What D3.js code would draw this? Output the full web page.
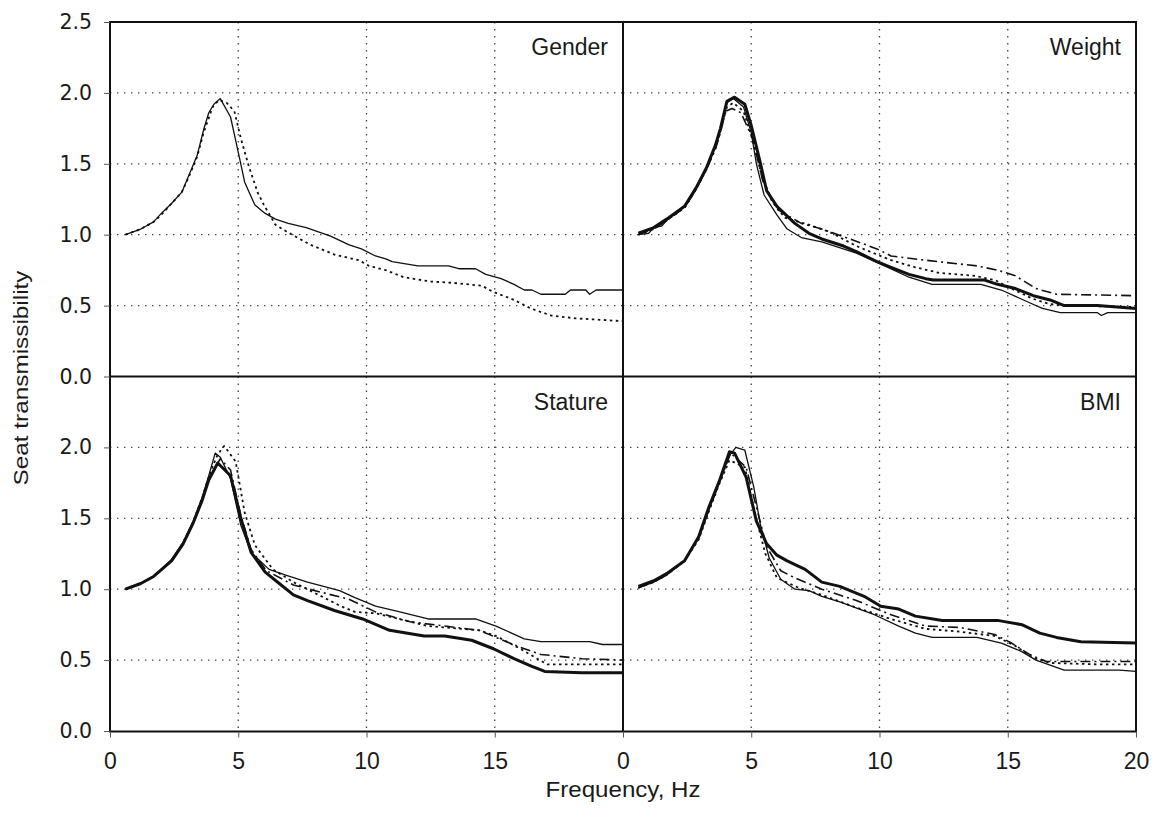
<!DOCTYPE html>
<html>
<head>
<meta charset="utf-8">
<script src="https://cdn.jsdelivr.net/npm/d3@7"></script>
<style>
  body { margin: 0; background: #fff; }
  text { font-family: "Liberation Sans", Arial, sans-serif; fill: #1a1a1a; }
</style>
</head>
<body>
<div id="chart"></div>
<script>
// tick values
var freqTicks = [0, 5, 10, 15, 20];
var yTicksTop = [0, 0.5, 1.0, 1.5, 2.0, 2.5];
var yTicksBottom = [0, 0.5, 1.0, 1.5, 2.0];
var gridFreq = [5, 10, 15];
var gridY = [0.5, 1.0, 1.5, 2.0];

// Gender
var genderSolid = [[0.6,1.0],[1.2,1.04],[1.7,1.09],[2.0,1.15],[2.4,1.22],[2.8,1.3],[3.1,1.43],[3.4,1.56],[3.65,1.74],[3.85,1.86],[4.05,1.92],[4.3,1.96],[4.7,1.83],[5.05,1.54],[5.25,1.37],[5.65,1.21],[6.05,1.15],[6.45,1.11],[6.95,1.08],[7.65,1.05],[8.6,0.99],[9.3,0.93],[9.8,0.9],[10.35,0.85],[10.75,0.83],[11.0,0.81],[12.0,0.78],[13.2,0.78],[13.6,0.76],[14.25,0.76],[14.65,0.72],[15.25,0.69],[15.75,0.65],[16.15,0.61],[16.45,0.61],[16.8,0.58],[17.75,0.58],[17.95,0.61],[18.55,0.61],[18.7,0.58],[18.95,0.61],[20,0.61]];
var genderDotted = [[0.6,1.0],[1.2,1.04],[1.7,1.09],[2.0,1.14],[2.4,1.22],[2.8,1.3],[3.1,1.42],[3.4,1.55],[3.65,1.72],[4.0,1.9],[4.25,1.95],[4.55,1.93],[4.85,1.87],[5.1,1.68],[5.4,1.49],[5.75,1.3],[6.0,1.21],[6.45,1.07],[6.9,1.02],[7.8,0.93],[8.75,0.86],[9.7,0.82],[10.1,0.78],[10.75,0.75],[11.45,0.7],[12.5,0.67],[13.4,0.66],[14.5,0.64],[14.9,0.6],[15.75,0.54],[16.4,0.48],[17.2,0.43],[18.15,0.41],[19.1,0.4],[20,0.39]];

// Weight
var weightThick = [[0.6,1.01],[1.2,1.05],[1.7,1.11],[2.4,1.2],[2.85,1.33],[3.25,1.47],[3.6,1.63],[3.8,1.75],[4.05,1.94],[4.35,1.97],[4.75,1.92],[5.0,1.77],[5.35,1.51],[5.6,1.31],[6.0,1.2],[6.7,1.08],[7.25,1.01],[7.75,0.97],[8.6,0.92],[9.1,0.88],[9.9,0.81],[10.45,0.77],[11.15,0.72],[11.8,0.69],[12.1,0.68],[14.1,0.68],[14.6,0.65],[15.3,0.62],[16.0,0.57],[16.65,0.54],[17.2,0.5],[18.5,0.5],[20,0.48]];
var weightThin = [[0.6,1.0],[1.0,1.01],[1.2,1.05],[1.5,1.06],[1.7,1.1],[2.4,1.2],[2.85,1.33],[3.25,1.47],[3.6,1.62],[3.8,1.74],[4.05,1.93],[4.3,1.96],[4.7,1.9],[5.0,1.72],[5.2,1.5],[5.5,1.28],[6.0,1.14],[6.4,1.04],[6.95,0.98],[7.75,0.95],[9.1,0.87],[10.2,0.78],[11.15,0.7],[12.05,0.65],[13.95,0.65],[14.75,0.61],[15.85,0.52],[16.35,0.48],[17.05,0.45],[18.5,0.45],[18.65,0.43],[18.9,0.45],[20,0.45]];
var weightDashDot = [[0.6,1.0],[1.2,1.04],[1.7,1.1],[2.4,1.19],[2.85,1.32],[3.25,1.46],[3.6,1.6],[3.8,1.72],[4.0,1.87],[4.25,1.89],[4.6,1.86],[5.05,1.68],[5.45,1.38],[6.0,1.18],[6.95,1.08],[7.75,1.04],[8.85,0.97],[9.9,0.9],[10.45,0.85],[11.8,0.82],[13.8,0.78],[14.6,0.75],[15.3,0.71],[16.1,0.62],[16.9,0.58],[20,0.57]];
var weightDotted = [[0.6,1.0],[1.2,1.04],[1.7,1.1],[2.4,1.19],[2.85,1.32],[3.25,1.46],[3.6,1.61],[3.8,1.73],[4.05,1.9],[4.3,1.93],[4.7,1.87],[5.0,1.7],[5.4,1.42],[5.8,1.24],[6.3,1.12],[7.25,1.07],[8.05,1.02],[9.1,0.92],[10.45,0.82],[11.4,0.77],[12.35,0.73],[13.7,0.71],[14.5,0.68],[15.15,0.62],[15.95,0.55],[16.65,0.51],[17.2,0.5],[20,0.49]];

// Stature
var statureThin = [[0.6,1.0],[1.2,1.04],[1.7,1.09],[2.4,1.21],[2.85,1.33],[3.25,1.48],[3.6,1.65],[3.85,1.8],[4.1,1.96],[4.3,1.93],[4.7,1.78],[5.1,1.45],[5.5,1.26],[6.2,1.14],[6.85,1.1],[7.7,1.05],[8.95,0.99],[9.55,0.94],[10.35,0.88],[11.3,0.84],[12.4,0.79],[14.25,0.79],[15.05,0.74],[16.15,0.65],[16.8,0.63],[18.7,0.63],[19.2,0.61],[20,0.61]];
var statureThick = [[0.6,1.0],[1.2,1.04],[1.7,1.09],[2.4,1.2],[2.85,1.32],[3.25,1.47],[3.6,1.63],[3.85,1.77],[4.2,1.89],[4.7,1.8],[5.1,1.5],[5.5,1.26],[6.05,1.12],[6.6,1.04],[7.15,0.96],[7.7,0.92],[8.75,0.85],[9.85,0.79],[10.9,0.71],[12.25,0.67],[13.05,0.67],[14.1,0.64],[14.95,0.58],[15.75,0.51],[16.4,0.46],[16.95,0.42],[18.4,0.41],[20,0.41]];
var statureDashDot = [[0.6,1.0],[1.2,1.04],[1.7,1.09],[2.4,1.2],[2.85,1.32],[3.25,1.47],[3.6,1.64],[3.85,1.78],[4.3,1.92],[4.7,1.84],[5.1,1.52],[5.5,1.28],[6.1,1.13],[7.15,1.03],[8.2,0.98],[9.3,0.93],[10.35,0.84],[11.7,0.77],[13.05,0.74],[14.4,0.71],[15.05,0.66],[16.0,0.59],[16.8,0.54],[18.4,0.51],[20,0.5]];
var statureDotted = [[0.6,1.0],[1.2,1.04],[1.7,1.09],[2.4,1.2],[2.85,1.33],[3.25,1.48],[3.6,1.65],[3.9,1.82],[4.2,1.95],[4.45,2.01],[4.9,1.9],[5.25,1.54],[5.65,1.31],[6.35,1.14],[7.15,1.05],[9.0,0.88],[9.55,0.84],[10.35,0.83],[12.4,0.74],[14.4,0.71],[15.05,0.67],[16.0,0.58],[16.65,0.51],[17.05,0.47],[20,0.47]];

// BMI
var bmiThick = [[0.6,1.02],[1.2,1.06],[1.7,1.11],[2.4,1.2],[2.95,1.37],[3.35,1.58],[3.75,1.76],[4.15,1.97],[4.35,1.96],[4.8,1.79],[5.2,1.48],[5.6,1.32],[6.0,1.24],[6.4,1.2],[7.1,1.14],[7.75,1.05],[8.45,1.02],[9.4,0.95],[10.05,0.88],[10.75,0.86],[11.4,0.81],[12.45,0.78],[14.6,0.78],[15.55,0.75],[16.25,0.69],[16.9,0.66],[17.85,0.63],[20,0.62]];
var bmiThin = [[0.6,1.01],[1.2,1.05],[1.7,1.1],[2.4,1.2],[2.95,1.36],[3.35,1.56],[3.75,1.75],[4.1,1.93],[4.4,2.0],[4.75,1.98],[5.1,1.72],[5.35,1.46],[5.7,1.22],[6.15,1.07],[6.7,1.0],[7.25,0.99],[7.75,0.95],[8.45,0.91],[9.8,0.82],[10.75,0.74],[11.4,0.69],[12.05,0.66],[13.8,0.66],[14.75,0.62],[15.55,0.56],[16.1,0.5],[17.2,0.43],[19.35,0.43],[20,0.42]];
var bmiDashDot = [[0.6,1.01],[1.2,1.05],[1.7,1.1],[2.4,1.2],[2.95,1.36],[3.35,1.56],[3.75,1.75],[4.2,1.96],[4.8,1.86],[5.2,1.58],[5.6,1.3],[6.15,1.13],[6.7,1.08],[7.75,1.0],[9.1,0.92],[10.45,0.82],[11.8,0.74],[13.15,0.73],[14.5,0.68],[15.15,0.62],[15.85,0.54],[16.5,0.49],[18.5,0.49],[20,0.49]];
var bmiDotted = [[0.6,1.01],[1.2,1.05],[1.7,1.1],[2.4,1.2],[2.95,1.35],[3.35,1.55],[3.75,1.74],[4.15,1.91],[4.75,1.86],[5.15,1.53],[5.55,1.25],[6.0,1.08],[6.85,1.01],[7.75,0.96],[9.1,0.87],[10.45,0.79],[11.8,0.72],[13.15,0.7],[14.5,0.67],[15.3,0.6],[15.95,0.52],[16.65,0.48],[18.5,0.47],[20,0.47]];

var W = 1156, H = 819;
var plotL = 110, plotM = 623, plotR = 1136;
var plotT = 22, plotMY = 376.5, plotB = 731.5;
var pw = plotM - plotL, ph = plotMY - plotT;

// line styles
var styles = {
    thin:    { w: 1.3, dash: null },
    thick:   { w: 3,   dash: null },
    dashdot: { w: 1.6, dash: "10,4,2,4" },
    dotted:  { w: 1.8, dash: "2.5,3.5" }
};

var panels = [
    { name: "Gender",  x: plotL, y: plotT,  series: [[genderSolid, "thin"], [genderDotted, "dotted"]] },
    { name: "Weight",  x: plotM, y: plotT,  series: [[weightThin, "thin"], [weightDotted, "dotted"], [weightDashDot, "dashdot"], [weightThick, "thick"]] },
    { name: "Stature", x: plotL, y: plotMY, series: [[statureThin, "thin"], [statureDotted, "dotted"], [statureDashDot, "dashdot"], [statureThick, "thick"]] },
    { name: "BMI",     x: plotM, y: plotMY, series: [[bmiThin, "thin"], [bmiDotted, "dotted"], [bmiDashDot, "dashdot"], [bmiThick, "thick"]] }
];

var svg = d3.select("#chart").append("svg").attr("width", W).attr("height", H);
svg.append("rect").attr("width", W).attr("height", H).attr("fill", "#fff");

var x = d3.scaleLinear().domain([0, 20]).range([0, pw]);
var y = d3.scaleLinear().domain([0, 2.5]).range([ph, 0]);
var line = d3.line().x(function(d) { return x(d[0]); }).y(function(d) { return y(d[1]); });

panels.forEach(function(p) {
    var g = svg.append("g").attr("transform", "translate(" + p.x + "," + p.y + ")");

    // dotted grid
    g.selectAll(".gx").data(gridFreq).enter().append("line")
        .attr("x1", x).attr("x2", x).attr("y1", 0).attr("y2", ph)
        .attr("stroke", "#444").attr("stroke-width", 1.3).attr("stroke-dasharray", "1.4,5.6");
    g.selectAll(".gy").data(gridY).enter().append("line")
        .attr("y1", y).attr("y2", y).attr("x1", 0).attr("x2", pw)
        .attr("stroke", "#444").attr("stroke-width", 1.3).attr("stroke-dasharray", "1.4,5.6");

    // curves
    p.series.forEach(function(s) {
        var st = styles[s[1]];
        g.append("path").datum(s[0]).attr("d", line)
            .attr("fill", "none").attr("stroke", "#111")
            .attr("stroke-width", st.w).attr("stroke-linejoin", "round")
            .attr("stroke-dasharray", st.dash);
    });

    g.append("text").attr("x", pw - 15).attr("y", 33)
        .attr("text-anchor", "end").attr("font-size", 23).text(p.name);
});

// frames
svg.append("rect").attr("x", plotL).attr("y", plotT).attr("width", plotR - plotL).attr("height", plotB - plotT)
    .attr("fill", "none").attr("stroke", "#111").attr("stroke-width", 2);
svg.append("line").attr("x1", plotM).attr("x2", plotM).attr("y1", plotT).attr("y2", plotB)
    .attr("stroke", "#111").attr("stroke-width", 2);
svg.append("line").attr("x1", plotL).attr("x2", plotR).attr("y1", plotMY).attr("y2", plotMY)
    .attr("stroke", "#111").attr("stroke-width", 2);

// axes
function styleAxis(sel, family, size) {
    sel.select(".domain").remove();
    sel.selectAll(".tick line").attr("stroke", "#555").attr("stroke-width", 1);
    sel.selectAll(".tick text").attr("fill", "#1a1a1a")
        .style("font-family", family).attr("font-size", size);
}

var fmt = d3.format(".1f");
var yFont = "'DejaVu Sans', sans-serif";
var xFont = "'Liberation Sans', Arial, sans-serif";

svg.append("g").attr("transform", "translate(" + plotL + "," + plotT + ")")
    .call(d3.axisLeft(y).tickValues(yTicksTop).tickFormat(fmt).tickSize(6).tickPadding(12))
    .call(styleAxis, yFont, 20.5);
svg.append("g").attr("transform", "translate(" + plotL + "," + plotMY + ")")
    .call(d3.axisLeft(y).tickValues(yTicksBottom).tickFormat(fmt).tickSize(6).tickPadding(12))
    .call(styleAxis, yFont, 20.5);

svg.append("g").attr("transform", "translate(" + plotL + "," + plotB + ")")
    .call(d3.axisBottom(x).tickValues(freqTicks.slice(0, 4)).tickFormat(d3.format("d")).tickSize(6).tickPadding(15))
    .call(styleAxis, xFont, 23);
svg.append("g").attr("transform", "translate(" + plotM + "," + plotB + ")")
    .call(d3.axisBottom(x).tickValues(freqTicks).tickFormat(d3.format("d")).tickSize(6).tickPadding(15))
    .call(styleAxis, xFont, 23);

// axis titles
svg.append("text").attr("x", plotM).attr("y", 797).attr("text-anchor", "middle")
    .style("font-family", xFont).attr("font-size", 22)
    .attr("textLength", 155).attr("lengthAdjust", "spacingAndGlyphs")
    .text("Frequency, Hz");
svg.append("text").attr("transform", "translate(28," + 378 + ") rotate(-90)")
    .attr("text-anchor", "middle").style("font-family", xFont).attr("font-size", 21)
    .attr("textLength", 215).attr("lengthAdjust", "spacingAndGlyphs")
    .text("Seat transmissibility");
</script>
</body>
</html>
